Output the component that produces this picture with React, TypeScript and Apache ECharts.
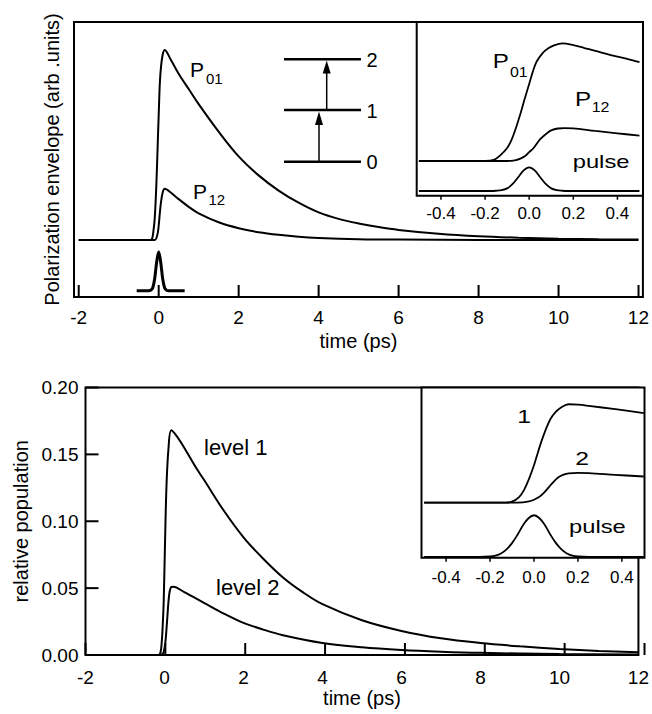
import React, { useEffect, useRef } from "react";
import * as echarts from "echarts";

// ---------- data ----------
const X_TICKS_MAIN = [-2, 0, 2, 4, 6, 8, 10, 12];
const X_TICKS_INSET = [-0.4, -0.2, 0, 0.2, 0.4];
const Y_TICKS_POP = [0, 0.05, 0.1, 0.15, 0.2];

// top panel: polarization envelopes (arb. units, P01 peak = 1)
const P01_MAIN: [number, number][] = [
  [-2, 0], [-0.2, 0], [-0.16, 0.01], [-0.13, 0.05], [-0.1, 0.11], [-0.06, 0.28],
  [-0.02, 0.53], [0, 0.655], [0.03, 0.83], [0.06, 0.915], [0.1, 0.975], [0.15, 1.0],
  [0.3, 0.95], [0.5, 0.875], [0.78, 0.785], [1, 0.715], [1.5, 0.57], [2, 0.44], [2.5, 0.34],
  [3, 0.26], [3.5, 0.196], [4, 0.145], [4.5, 0.111], [5, 0.087], [5.5, 0.068], [6, 0.053],
  [7, 0.033], [8, 0.02], [9, 0.012], [10, 0.007], [11, 0.004], [12, 0.002],
];
const P12_MAIN: [number, number][] = [
  [-2, 0], [-0.1, 0], [-0.06, 0.008], [-0.02, 0.04], [0, 0.075], [0.05, 0.185],
  [0.1, 0.25], [0.15, 0.27], [0.3, 0.25], [0.5, 0.215], [0.78, 0.17], [1, 0.14],
  [1.5, 0.093], [2, 0.062], [2.5, 0.041], [3, 0.027], [3.5, 0.017], [4, 0.011],
  [5, 0.0045], [6, 0.002], [8, 0.0005], [12, 0],
];
const PULSE_MAIN: [number, number][] = [
  [-0.55, -0.267], [-0.25, -0.267], [-0.2, -0.265], [-0.15, -0.253], [-0.1, -0.204],
  [-0.05, -0.116], [0, -0.063], [0.05, -0.116], [0.1, -0.204], [0.15, -0.253],
  [0.2, -0.265], [0.25, -0.267], [0.65, -0.267],
];
const P01_INSET: [number, number][] = [
  [-0.5, 0], [-0.2, 0], [-0.16, 0.01], [-0.13, 0.05], [-0.1, 0.11], [-0.08, 0.18],
  [-0.06, 0.28], [-0.04, 0.4], [-0.02, 0.53], [0, 0.655], [0.03, 0.83], [0.06, 0.915],
  [0.085, 0.955], [0.11, 0.98], [0.15, 1.0], [0.2, 0.985], [0.25, 0.96], [0.3, 0.935],
  [0.37, 0.9], [0.44, 0.87], [0.5, 0.84],
];
const P12_INSET: [number, number][] = [
  [-0.5, 0], [-0.1, 0], [-0.06, 0.008], [-0.04, 0.02], [-0.02, 0.04], [0, 0.075],
  [0.02, 0.11], [0.05, 0.185], [0.08, 0.235], [0.1, 0.26], [0.13, 0.276], [0.16, 0.28],
  [0.2, 0.277], [0.3, 0.255], [0.4, 0.235], [0.5, 0.215],
];
const PULSE_TOP_INSET: [number, number][] = [
  [-0.5, -0.255], [-0.175, -0.255], [-0.15, -0.253], [-0.125, -0.248], [-0.1, -0.233],
  [-0.075, -0.195], [-0.05, -0.138], [-0.025, -0.08], [0, -0.054], [0.025, -0.08],
  [0.05, -0.138], [0.075, -0.195], [0.1, -0.233], [0.125, -0.248], [0.15, -0.253],
  [0.175, -0.255], [0.5, -0.255],
];

// bottom panel: relative populations
const LEVEL1_MAIN: [number, number][] = [
  [-2, 0], [-0.15, 0], [-0.1, 0.002], [-0.07, 0.0096], [-0.045, 0.022], [-0.02, 0.04],
  [0.015, 0.086], [0.05, 0.126], [0.1, 0.154], [0.17, 0.168], [0.3, 0.164], [0.5, 0.155],
  [0.8, 0.14], [1, 0.131], [1.5, 0.108], [2, 0.088], [2.5, 0.072], [3, 0.058],
  [3.5, 0.047], [4, 0.038], [5, 0.026], [6, 0.018], [7, 0.0125], [8, 0.009],
  [9, 0.0065], [10, 0.0045], [11, 0.003], [12, 0.002],
];
const LEVEL2_MAIN: [number, number][] = [
  [-2, 0], [-0.1, 0], [-0.05, 0.0007], [-0.02, 0.0022], [0.023, 0.0096], [0.068, 0.0265],
  [0.113, 0.0437], [0.158, 0.0504], [0.22, 0.051], [0.5, 0.047], [1, 0.039], [1.5, 0.031],
  [2, 0.024], [2.5, 0.019], [3, 0.0148], [4, 0.009], [5, 0.0058], [6, 0.0038],
  [7, 0.0025], [8, 0.0016], [10, 0.0007], [12, 0.0003],
];
const LEVEL1_INSET: [number, number][] = [
  [-0.5, 0], [-0.13, 0], [-0.1, 0.01], [-0.068, 0.057], [-0.045, 0.13], [-0.023, 0.24],
  [0, 0.38], [0.015, 0.49], [0.035, 0.63], [0.053, 0.74], [0.075, 0.85], [0.098, 0.92],
  [0.125, 0.97], [0.158, 1.0], [0.2, 0.995], [0.249, 0.983], [0.37, 0.95], [0.5, 0.91],
];
const LEVEL2_INSET: [number, number][] = [
  [-0.5, 0], [-0.1, 0], [-0.05, 0.004], [-0.023, 0.013], [0, 0.03], [0.023, 0.057],
  [0.045, 0.1], [0.068, 0.158], [0.09, 0.215], [0.113, 0.26], [0.135, 0.285],
  [0.158, 0.298], [0.2, 0.303], [0.25, 0.301], [0.37, 0.283], [0.5, 0.266],
];
const PULSE_BOTTOM_INSET: [number, number][] = [
  [-0.5, -0.55], [-0.25, -0.55], [-0.2, -0.546], [-0.175, -0.537], [-0.15, -0.516],
  [-0.125, -0.474], [-0.1, -0.411], [-0.075, -0.326], [-0.05, -0.229], [-0.025, -0.158],
  [0, -0.128], [0.025, -0.158], [0.05, -0.229], [0.075, -0.326], [0.1, -0.411],
  [0.125, -0.474], [0.15, -0.516], [0.175, -0.537], [0.2, -0.546], [0.25, -0.55],
  [0.5, -0.55],
];

// axis ranges of the four panels
const TOP_X = [-2.118, 12.112];
const TOP_Y = [-0.3, 1.147];
const TOP_INSET_X = [-0.51, 0.516];
const TOP_INSET_Y = [-0.295, 1.181];
const BOT_X = [-2, 12];
const BOT_Y = [0, 0.2];
const BOT_INSET_X = [-0.512, 0.503];
const BOT_INSET_Y = [-0.56, 1.17];

// ---------- layout & styling ----------
const FONT = "'Liberation Sans', Arial, Helvetica, sans-serif";
const BLACK = "#000";

const G_TOP = { left: 74, top: 22, width: 569, height: 275 };
const G_TOP_INSET = { left: 416.7, top: 22, width: 226.3, height: 173.7 };
const G_BOT = { left: 85.5, top: 387.5, width: 559, height: 267.5 };
const G_BOT_INSET = { left: 421.5, top: 387.5, width: 223, height: 170.3 };

function line(data: [number, number][], gi: number, width = 2) {
  return {
    type: "line",
    data,
    xAxisIndex: gi,
    yAxisIndex: gi,
    showSymbol: false,
    symbol: "none",
    smooth: 0.35,
    silent: true,
    lineStyle: { color: BLACK, width },
  };
}

function xAxisDef(gi: number, range: number[], ticks: number[], size: number, margin: number, digits: number, name?: string, gap?: number) {
  return {
    type: "value",
    gridIndex: gi,
    min: range[0],
    max: range[1],
    ...(name
      ? { name, nameLocation: "middle", nameGap: gap, nameTextStyle: { color: BLACK, fontSize: 20, fontFamily: FONT } }
      : {}),
    axisLine: { show: false, onZero: false },
    splitLine: { show: false },
    axisTick: { show: false },
    axisLabel: {
      show: true,
      margin,
      color: BLACK,
      fontSize: size,
      fontFamily: FONT,
      customValues: ticks.slice(),
      formatter: (v: number) => v.toFixed(digits),
    },
  };
}

function hiddenY(gi: number, range: number[], name?: string, gap?: number) {
  return {
    type: "value",
    gridIndex: gi,
    min: range[0],
    max: range[1],
    ...(name
      ? { name, nameLocation: "middle", nameGap: gap, nameTextStyle: { color: BLACK, fontSize: 20, fontFamily: FONT } }
      : {}),
    axisLine: { show: false, onZero: false },
    axisTick: { show: false },
    axisLabel: { show: false },
    splitLine: { show: false },
  };
}

function txt(text: string, x: number, y: number, size: number, align = "left", scaleX = 1) {
  return {
    type: "text",
    x,
    y,
    scaleX,
    silent: true,
    style: { text, fill: BLACK, fontSize: size, fontFamily: FONT, align, verticalAlign: "middle" },
  };
}

function seg(x1: number, y1: number, x2: number, y2: number, w: number) {
  return { type: "line", silent: true, z: 10, shape: { x1, y1, x2, y2 }, style: { stroke: BLACK, lineWidth: w } };
}

// tick marks along each panel's frame, at the tick values mapped linearly onto the frame
function xTicks(g: any, range: number[], values: number[], len: number, w: number) {
  const bottom = g.top + g.height;
  return values.map((v) => {
    const x = g.left + ((v - range[0]) / (range[1] - range[0])) * g.width;
    return seg(x, bottom, x, bottom - len, w);
  });
}
function yTicks(g: any, range: number[], values: number[], len: number, w: number) {
  return values.map((v) => {
    const y = g.top + g.height - ((v - range[0]) / (range[1] - range[0])) * g.height;
    return seg(g.left, y, g.left + len, y, w);
  });
}

const frame = { show: true, borderColor: BLACK, borderWidth: 2 };

const option = {
  animation: false,
  backgroundColor: "#fff",
  grid: [
    { ...frame, ...G_TOP },
    { ...frame, ...G_TOP_INSET, backgroundColor: "#fff" },
    { ...frame, ...G_BOT },
    { ...frame, ...G_BOT_INSET, backgroundColor: "#fff" },
  ],
  xAxis: [
    xAxisDef(0, TOP_X, X_TICKS_MAIN, 19, 11, 0, "time (ps)", 34),
    xAxisDef(1, TOP_INSET_X, X_TICKS_INSET, 17, 9, 1),
    xAxisDef(2, BOT_X, X_TICKS_MAIN, 19, 13, 0, "time (ps)", 32),
    xAxisDef(3, BOT_INSET_X, X_TICKS_INSET, 17, 11, 1),
  ],
  yAxis: [
    hiddenY(0, TOP_Y, "Polarization envelope (arb .units)", 12),
    hiddenY(1, TOP_INSET_Y),
    {
      type: "value",
      gridIndex: 2,
      min: BOT_Y[0],
      max: BOT_Y[1],
      name: "relative population",
      nameLocation: "middle",
      nameGap: 50,
      nameTextStyle: { color: BLACK, fontSize: 20, fontFamily: FONT },
      axisLine: { show: false, onZero: false },
      splitLine: { show: false },
      axisTick: { show: false },
      axisLabel: {
        show: true,
        margin: 7,
        color: BLACK,
        fontSize: 19,
        fontFamily: FONT,
        customValues: Y_TICKS_POP.slice(),
        formatter: (v: number) => v.toFixed(2),
      },
    },
    hiddenY(3, BOT_INSET_Y),
  ],
  series: [
    line(P01_MAIN, 0),
    line(P12_MAIN, 0),
    line(PULSE_MAIN, 0, 3),
    line(P01_INSET, 1, 1.8),
    line(P12_INSET, 1, 1.8),
    line(PULSE_TOP_INSET, 1, 1.8),
    line(LEVEL1_MAIN, 2),
    line(LEVEL2_MAIN, 2),
    line(LEVEL1_INSET, 3, 1.8),
    line(LEVEL2_INSET, 3, 1.8),
    line(PULSE_BOTTOM_INSET, 3, 1.8),
  ],
  graphic: [
    // tick marks
    ...xTicks(G_TOP, TOP_X, X_TICKS_MAIN, 12, 2),
    ...xTicks(G_TOP_INSET, TOP_INSET_X, X_TICKS_INSET, -4, 1.5),
    ...xTicks(G_BOT, BOT_X, X_TICKS_MAIN, 12, 2),
    ...yTicks(G_BOT, BOT_Y, Y_TICKS_POP, 13, 2),
    ...xTicks(G_BOT_INSET, BOT_INSET_X, X_TICKS_INSET, -4, 1.5),
    // top main labels
    txt("P", 190, 69, 21),
    txt("01", 206, 78, 15),
    txt("P", 193, 191, 21),
    txt("12", 208.5, 199.5, 15),
    // energy level scheme
    seg(284, 59.3, 361, 59.3, 2.6),
    seg(284, 110, 361, 110, 2.6),
    seg(284, 161.7, 361, 161.7, 2.6),
    txt("2", 366.5, 59.5, 20),
    txt("1", 366.5, 110.5, 20),
    txt("0", 366.5, 162, 20),
    seg(319, 161.7, 319, 122, 1.5),
    { type: "polygon", silent: true, shape: { points: [[319, 111.5], [315, 125], [323, 125]] }, style: { fill: BLACK } },
    seg(326.7, 110, 326.7, 70, 1.5),
    { type: "polygon", silent: true, shape: { points: [[326.7, 60.5], [322.7, 73.5], [330.7, 73.5]] }, style: { fill: BLACK } },
    // top inset labels
    txt("P", 492.7, 61, 21, "left", 1.15),
    txt("01", 510, 71.7, 14.5, "left", 1.1),
    txt("P", 575, 99.5, 21, "left", 1.15),
    txt("12", 591.7, 107.2, 14.5, "left", 1.1),
    txt("pulse", 572.7, 161.7, 19, "left", 1.25),
    // bottom main labels
    txt("level 1", 204, 447.4, 22),
    txt("level 2", 216, 587.4, 22),
    // bottom inset labels
    txt("1", 524, 416.7, 19, "center", 1.3),
    txt("2", 582, 458.3, 19, "center", 1.3),
    txt("pulse", 569, 526.7, 19, "left", 1.25),
  ],
};

export default function App() {
  const ref = useRef<HTMLDivElement>(null);
  useEffect(() => {
    if (!ref.current) return;
    const chart = echarts.init(ref.current, null, { renderer: "svg" });
    chart.setOption(option as any);
    return () => chart.dispose();
  }, []);
  return (
    <div
      ref={ref}
      style={{ position: "absolute", left: 0, top: 0, width: 652, height: 714, background: "#fff" }}
    />
  );
}
